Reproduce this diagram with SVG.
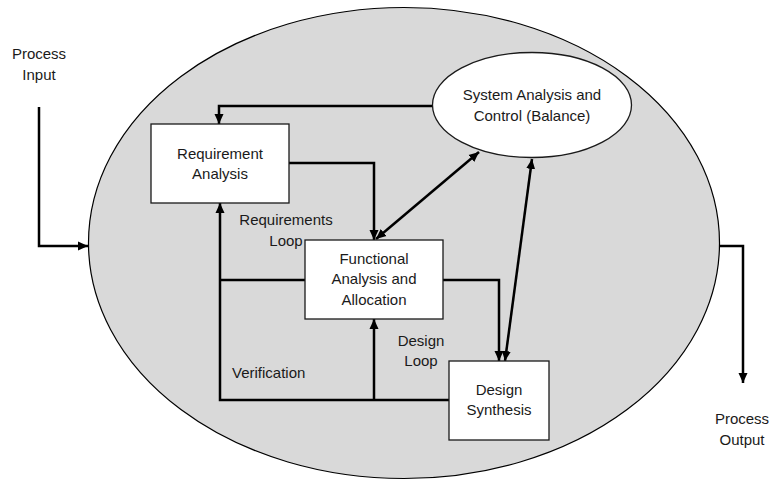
<svg xmlns="http://www.w3.org/2000/svg" width="770" height="481" viewBox="0 0 770 481">
  <style>
    text { font-family: "Liberation Sans", Arial, sans-serif; font-size: 15px; fill: #1a1a1a; }
    .c { text-anchor: middle; }
    .box { fill: #ffffff; stroke: #1a1a1a; stroke-width: 1.3; }
    .conn { fill: none; stroke: #000000; stroke-width: 2.5; }
  </style>
  <defs>
    <marker id="arr" markerUnits="userSpaceOnUse" markerWidth="11" markerHeight="10" refX="10" refY="5" orient="auto-start-reverse">
      <path d="M0,0.5 L10,5 L0,9.5 z" fill="#000"/>
    </marker>
  </defs>

  <rect width="770" height="481" fill="#ffffff"/>

  <g id="process-boundary">
    <ellipse cx="404" cy="243" rx="315.5" ry="235.5" fill="#d9d9d9" stroke="#000" stroke-width="1.2"/>
  </g>

  <g id="connectors">
    <path class="conn" d="M39,107 V246 H88" marker-end="url(#arr)"/>
    <path class="conn" d="M433,106 H219 V124" marker-end="url(#arr)"/>
    <path class="conn" d="M289,163 H374 V240" marker-end="url(#arr)"/>
    <path class="conn" d="M376,239 L479,152" marker-start="url(#arr)" marker-end="url(#arr)"/>
    <path class="conn" d="M443,280 H499 V361" marker-end="url(#arr)"/>
    <path class="conn" d="M532,159 L505,361" marker-start="url(#arr)" marker-end="url(#arr)"/>
    <path class="conn" d="M305,280 H220"/>
    <path class="conn" d="M449,400 H220 V203" marker-end="url(#arr)"/>
    <path class="conn" d="M374,400 V319" marker-end="url(#arr)"/>
    <path class="conn" d="M719,246 H743 V383" marker-end="url(#arr)"/>
  </g>

  <g id="system-analysis">
    <ellipse cx="532" cy="105" rx="99.5" ry="52.5" fill="#ffffff" stroke="#1a1a1a" stroke-width="1.3"/>
    <text class="c" x="532" y="100">System Analysis and</text>
    <text class="c" x="532" y="121">Control (Balance)</text>
  </g>

  <g id="requirement-analysis">
    <rect class="box" x="151" y="124" width="138" height="79"/>
    <text class="c" x="220" y="159">Requirement</text>
    <text class="c" x="220" y="179">Analysis</text>
  </g>

  <g id="functional-analysis">
    <rect class="box" x="305" y="240" width="138" height="79"/>
    <text class="c" x="374" y="264">Functional</text>
    <text class="c" x="374" y="284">Analysis and</text>
    <text class="c" x="374" y="305">Allocation</text>
  </g>

  <g id="design-synthesis">
    <rect class="box" x="449" y="361" width="100" height="79"/>
    <text class="c" x="499" y="395">Design</text>
    <text class="c" x="499" y="415">Synthesis</text>
  </g>

  <g id="labels">
    <text class="c" x="39" y="59">Process</text>
    <text class="c" x="39" y="80">Input</text>
    <text class="c" x="742" y="424">Process</text>
    <text class="c" x="742" y="445">Output</text>
    <text class="c" x="286" y="225">Requirements</text>
    <text class="c" x="286" y="246">Loop</text>
    <text class="c" x="421" y="346">Design</text>
    <text class="c" x="421" y="366">Loop</text>
    <text x="232" y="378">Verification</text>
  </g>
</svg>
